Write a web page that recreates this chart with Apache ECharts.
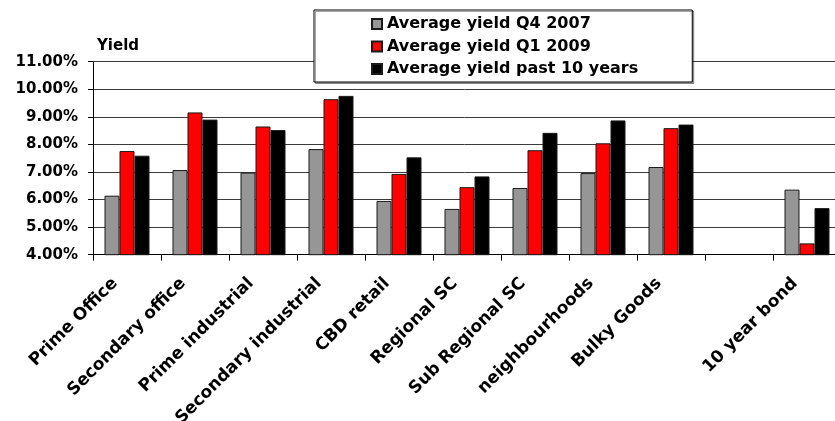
<!DOCTYPE html>
<html>
<head>
<meta charset="utf-8">
<title>Yield chart</title>
<script src="https://cdn.jsdelivr.net/npm/echarts@6/dist/echarts.min.js"></script>
<style>
  html, body { margin: 0; padding: 0; background: #fff; }
  #YieldBarChart { width: 835px; height: 421px; }
</style>
</head>
<body>
<div id="YieldBarChart"></div>
<script>
// categories (one empty slot before the bond, as in the original sheet)
var categories = ['Prime Office', 'Secondary office', 'Prime industrial', 'Secondary industrial',
  'CBD retail', 'Regional SC', 'Sub Regional SC', 'neighbourhoods', 'Bulky Goods', '', '10 year bond'];

var seriesNames = ['Average yield Q4 2007', 'Average yield Q1 2009', 'Average yield past 10 years'];

// yields in %
var yieldQ42007 = [6.14, 7.07, 6.98, 7.83, 5.95, 5.66, 6.42, 6.96, 7.18, null, 6.36];
var yieldQ12009 = [7.76, 9.16, 8.65, 9.64, 6.93, 6.45, 7.79, 8.04, 8.59, null, 4.41];
var yieldPast10 = [7.59, 8.90, 8.52, 9.76, 7.53, 6.84, 8.42, 8.87, 8.72, null, 5.69];

var yMin = 4, yMax = 11, yStep = 1;

var fontFamily = 'DejaVu Sans';
var colors = ['#969696', '#ff0000', '#000000'];

var chart = echarts.init(document.getElementById('YieldBarChart'));

function barSeries(name, data, color) {
  return {
    name: name,
    type: 'bar',
    barWidth: 15,
    barGap: '0%',
    itemStyle: {
      color: color,
      borderColor: '#1a1a1a',
      borderWidth: 1
    },
    data: data
  };
}

var option = {
  backgroundColor: '#ffffff',
  animation: false,
  // 图例 - boxed, top middle
  legend: {
    orient: 'vertical',
    left: 314,
    top: 10,
    data: seriesNames,
    icon: 'rect',
    itemWidth: 10,
    itemHeight: 10,
    itemGap: 6.5,
    padding: [6, 54, 5, 57],
    backgroundColor: '#ffffff',
    borderColor: '#000000',
    borderWidth: 1,
    shadowColor: 'rgba(0,0,0,0.35)',
    shadowOffsetX: 1.5,
    shadowOffsetY: 1.5,
    textStyle: {
      fontFamily: fontFamily,
      fontWeight: 'bold',
      fontSize: 16,
      lineHeight: 16,
      color: '#000'
    }
  },
  // plot runs a little past the right edge, like the source
  grid: {
    left: 93,
    right: -6,
    top: 61.7,
    bottom: 166.3,
    outerBoundsMode: 'none'
  },
  xAxis: {
    type: 'category',
    data: categories,
    axisLine: { lineStyle: { color: '#000', width: 1 } },
    axisTick: { show: true, length: 6, lineStyle: { color: '#000' } },
    axisLabel: {
      interval: 0,
      rotate: 45,
      margin: 14,
      padding: [0, 17, 0, 0],
      fontFamily: fontFamily,
      fontWeight: 'bold',
      fontSize: 17,
      color: '#000'
    }
  },
  yAxis: {
    type: 'value',
    min: yMin,
    max: yMax,
    interval: yStep,
    name: 'Yield',
    nameLocation: 'end',
    nameGap: 8,
    nameTextStyle: {
      align: 'left',
      padding: [0, 0, 0, 4],
      fontFamily: fontFamily,
      fontWeight: 'bold',
      fontSize: 15,
      color: '#000'
    },
    axisLine: { show: true, lineStyle: { color: '#000', width: 1 } },
    axisTick: { show: true, length: 5, lineStyle: { color: '#000' } },
    axisLabel: {
      margin: 15,
      fontFamily: fontFamily,
      fontWeight: 'bold',
      fontSize: 15,
      color: '#000',
      formatter: function (v) { return v.toFixed(2) + '%'; }
    },
    splitLine: { show: true, lineStyle: { color: '#3a3a3a', width: 1 } }
  },
  series: [
    barSeries(seriesNames[0], yieldQ42007, colors[0]),
    barSeries(seriesNames[1], yieldQ12009, colors[1]),
    barSeries(seriesNames[2], yieldPast10, colors[2])
  ]
};

chart.setOption(option);
</script>
</body>
</html>
